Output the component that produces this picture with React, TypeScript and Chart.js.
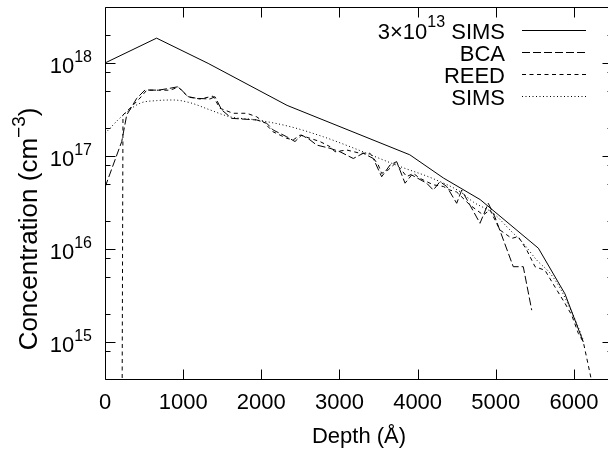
import React, { useEffect, useRef } from "react";
import { Chart, registerables } from "chart.js";

Chart.register(...registerables);

const FONT = '"Liberation Sans", Arial, Helvetica, sans-serif';

// ---- data (depth in Å, concentration in cm^-3) ----
const simsHighDose: [number, number][] = [
  [0, 1.0e18], [660, 1.85e18], [1320, 9.9e17], [2330, 3.5e17], [3900, 1.03e17],
  [4330, 5.8e16], [4800, 3.4e16], [5545, 1.02e16], [5885, 3.3e15], [6120, 1.0e15],
];

const bcaProfile: [number, number][] = [
  [0, 4.6e16], [214, 1.43e17], [278, 2.76e17], [406, 4.17e17], [512, 5.13e17],
  [682, 5.1e17], [832, 5.35e17], [938, 5.56e17], [981, 5.1e17], [1066, 4.34e17],
  [1173, 4.17e17], [1343, 4.1e17], [1407, 4.34e17], [1493, 3.13e17], [1621, 2.54e17],
  [1941, 2.44e17], [2069, 2.25e17], [2153, 1.9e17], [2325, 1.61e17], [2431, 1.43e17],
  [2517, 1.68e17], [2623, 1.49e17], [2709, 1.31e17], [2879, 1.21e17], [3007, 1.11e17],
  [3177, 9.4e16], [3305, 1.07e17], [3433, 9.4e16], [3540, 5.98e16], [3647, 8.0e16],
  [3732, 8.7e16], [3839, 5.1e16], [3924, 6.25e16], [4116, 5.1e16], [4201, 4.3e16],
  [4286, 5.3e16], [4372, 4.7e16], [4500, 3.1e16], [4564, 4.3e16], [4798, 1.89e16],
  [4904, 3.1e16], [4990, 2.2e16], [5224, 6.45e15], [5352, 6.45e15], [5460, 2.2e15],
];

const reedProfile: [number, number][] = [
  [214, 1e13], [230, 2.76e17], [342, 3.4e17], [448, 4.2e17], [534, 5.1e17],
  [682, 5.1e17], [832, 5.1e17], [938, 5.5e17], [1066, 4.3e17], [1215, 4.1e17],
  [1382, 4.4e17], [1471, 3.26e17], [1638, 2.88e17], [1813, 2.88e17], [1941, 2.64e17],
  [2025, 2.34e17], [2150, 1.82e17], [2325, 1.55e17], [2409, 1.49e17], [2495, 1.68e17],
  [2623, 1.55e17], [2751, 1.43e17], [2879, 1.26e17], [2943, 1.11e17], [3093, 1.16e17],
  [3263, 1.07e17], [3391, 1.07e17], [3497, 8.0e16], [3540, 6.5e16], [3625, 7.1e16],
  [3711, 8.3e16], [3775, 7.4e16], [3860, 6.0e16], [3945, 6.5e16], [4030, 5.75e16],
  [4116, 5.3e16], [4201, 4.9e16], [4329, 4.7e16], [4414, 4.3e16], [4500, 4.1e16],
  [4670, 2.97e16], [4840, 2.32e16], [4926, 2.63e16], [5054, 1.6e16], [5204, 1.3e16],
  [5288, 1.36e16], [5395, 9.8e15], [5502, 6.45e15], [5630, 5.9e15], [5758, 3.9e15],
  [5886, 2.6e15], [5971, 1.95e15], [6056, 1.24e15], [6120, 1.0e15], [6206, 4.6e14],
  [6225, 3.8e14],
];

const simsProfile: [number, number][] = [
  [0, 1.75e17], [234, 2.76e17], [448, 3.69e17], [661, 3.94e17], [874, 4.0e17],
  [1088, 3.74e17], [1322, 3.18e17], [1599, 2.64e17], [1941, 2.44e17], [2367, 2.07e17],
  [2793, 1.61e17], [3135, 1.26e17], [3348, 1.07e17], [3775, 7.7e16], [4200, 5.7e16],
  [4550, 4.1e16], [4712, 3.2e16], [4968, 2.42e16], [5182, 1.6e16], [5352, 1.15e16],
  [5524, 7.6e15], [5694, 5.5e15], [5822, 3.8e15], [5950, 2.3e15], [6035, 1.59e15],
  [6120, 1.05e15],
];

const xTicks = [0, 1000, 2000, 3000, 4000, 5000, 6000];
const yMajorExponents = [15, 16, 17, 18];
const yMinorTicks = [8e14, 2e15, 5e15, 8e15, 2e16, 5e16, 8e16, 2e17, 5e17, 8e17, 2e18];

const seriesLabels = ["SIMS", "BCA", "REED", "SIMS"];
const seriesDashes: number[][] = [[], [8, 3], [4, 3.5], [1, 2.5]];

const X_MIN = 0;
const X_MAX = 6500;
const Y_MIN = 4e14;
const Y_MAX = 4e18;

const toPts = (arr: [number, number][]) => arr.map(([x, y]) => ({ x, y }));

function drawSup(
  ctx: CanvasRenderingContext2D,
  parts: { t: string; sup?: boolean }[],
  x: number,
  y: number,
  align: "left" | "right" | "center",
  size: number,
  supSize: number,
  raise: number
) {
  ctx.save();
  ctx.textAlign = "left";
  ctx.textBaseline = "alphabetic";
  const widths = parts.map((p) => {
    ctx.font = `${p.sup ? supSize : size}px ${FONT}`;
    return ctx.measureText(p.t).width;
  });
  const total = widths.reduce((a, b) => a + b, 0);
  let cx = align === "left" ? x : align === "right" ? x - total : x - total / 2;
  parts.forEach((p, i) => {
    ctx.font = `${p.sup ? supSize : size}px ${FONT}`;
    ctx.fillText(p.t, cx, p.sup ? y - raise : y);
    cx += widths[i];
  });
  ctx.restore();
}

const framePlugin = {
  id: "gnuFrame",
  afterDraw(chart: any) {
    const { ctx, chartArea: a, scales } = chart;
    const xs = scales.x;
    const ys = scales.y;
    const L = Math.round(a.left) + 0.5;
    const R = Math.round(a.right) - 0.5;
    const T = Math.round(a.top) + 0.5;
    const B = Math.round(a.bottom) + 0.5;
    ctx.save();
    ctx.strokeStyle = "#000";
    ctx.fillStyle = "#000";
    ctx.lineWidth = 1;
    ctx.setLineDash([]);
    ctx.beginPath();
    ctx.rect(L, T, R - L, B - T);
    ctx.stroke();

    // x ticks (bottom and top, inward)
    ctx.beginPath();
    xTicks.forEach((v) => {
      const px = Math.round(xs.getPixelForValue(v)) + 0.5;
      ctx.moveTo(px, B);
      ctx.lineTo(px, B - 10);
      ctx.moveTo(px, T);
      ctx.lineTo(px, T + 10);
    });
    // y major ticks
    yMajorExponents.forEach((e) => {
      const py = Math.round(ys.getPixelForValue(Math.pow(10, e))) + 0.5;
      ctx.moveTo(L, py);
      ctx.lineTo(L + 10, py);
      ctx.moveTo(R, py);
      ctx.lineTo(R - 10, py);
    });
    yMinorTicks.forEach((v) => {
      const py = Math.round(ys.getPixelForValue(v)) + 0.5;
      ctx.moveTo(L, py);
      ctx.lineTo(L + 5, py);
      ctx.moveTo(R, py);
      ctx.lineTo(R - 5, py);
    });
    ctx.stroke();

    // x tick labels
    ctx.font = `22px ${FONT}`;
    ctx.textAlign = "center";
    ctx.textBaseline = "alphabetic";
    xTicks.forEach((v) => {
      ctx.fillText(String(v), xs.getPixelForValue(v), a.bottom + 30);
    });

    // x title
    ctx.fillText("Depth (\u00C5)", (a.left + a.right) / 2, a.bottom + 64);

    // y tick labels
    yMajorExponents.forEach((e) => {
      const py = ys.getPixelForValue(Math.pow(10, e));
      drawSup(ctx, [{ t: "10" }, { t: String(e), sup: true }], 92, py + 10, "right", 22, 16, 11);
    });

    // y title
    ctx.save();
    ctx.translate(37, 229);
    ctx.rotate(-Math.PI / 2);
    drawSup(
      ctx,
      [{ t: "Concentration (cm" }, { t: "\u22123", sup: true }, { t: ")" }],
      0,
      0,
      "center",
      26,
      19,
      12
    );
    ctx.restore();

    // legend
    const textRight = 505;
    const sampleL = 522;
    const sampleR = 586;
    seriesLabels.forEach((lab, i) => {
      const base = 39 + i * 22;
      const parts = i === 0 ? [{ t: "3\u00D710" }, { t: "13", sup: true }, { t: " " + lab }] : [{ t: lab }];
      drawSup(ctx, parts, textRight, base, "right", 22, 16, 12);
      ctx.beginPath();
      ctx.setLineDash(seriesDashes[i]);
      const ly = Math.round(base - 9) + 0.5;
      ctx.moveTo(sampleL, ly);
      ctx.lineTo(sampleR, ly);
      ctx.stroke();
    });
    ctx.restore();
  },
};

export default function App() {
  const ref = useRef<HTMLCanvasElement | null>(null);
  useEffect(() => {
    if (!ref.current) return;
    const mk = (data: [number, number][], i: number) => ({
      label: seriesLabels[i],
      data: toPts(data),
      borderColor: "#000",
      backgroundColor: "#000",
      borderWidth: 1,
      borderDash: seriesDashes[i],
      pointRadius: 0,
      fill: false,
      tension: 0,
      cubicInterpolationMode: i === 3 ? ("monotone" as const) : ("default" as const),
    });
    const chart = new Chart(ref.current, {
      type: "line",
      data: {
        datasets: [mk(simsHighDose, 0), mk(bcaProfile, 1), mk(reedProfile, 2), mk(simsProfile, 3)],
      },
      options: {
        responsive: false,
        maintainAspectRatio: false,
        devicePixelRatio: 1,
        animation: false,
        layout: { padding: { top: 7, left: 0, right: 0, bottom: 0 } },
        plugins: { legend: { display: false }, tooltip: { enabled: false } },
        scales: {
          x: {
            type: "linear",
            min: X_MIN,
            max: X_MAX,
            ticks: { display: false },
            grid: { display: false },
            border: { display: false },
            afterFit: (s: any) => {
              s.height = 72;
            },
          },
          y: {
            type: "logarithmic",
            min: Y_MIN,
            max: Y_MAX,
            ticks: { display: false },
            grid: { display: false },
            border: { display: false },
            afterFit: (s: any) => {
              s.width = 105;
            },
          },
        },
      },
      plugins: [framePlugin],
    });
    return () => chart.destroy();
  }, []);
  return (
    <div
      style={{
        position: "fixed",
        left: 0,
        top: 0,
        width: 608,
        height: 451,
        overflow: "hidden",
        background: "#fff",
      }}
    >
      <canvas ref={ref} width={613} height={451} style={{ display: "block", width: 613, height: 451 }} />
    </div>
  );
}
